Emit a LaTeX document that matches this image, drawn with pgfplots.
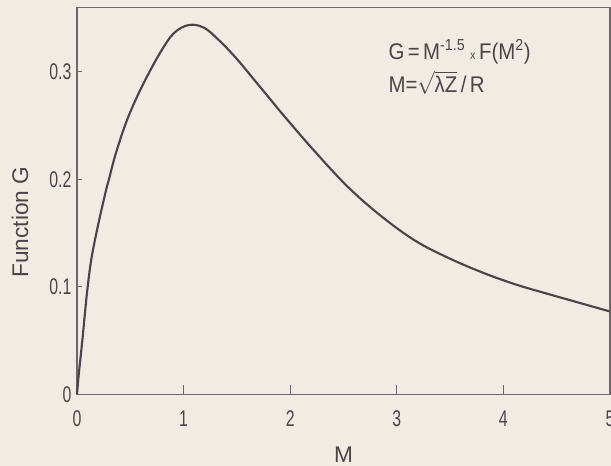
\documentclass[border=0pt]{standalone}
\usepackage{fontspec}
\setmainfont{Liberation Sans}
\usepackage{pgfplots}
\pgfplotsset{compat=1.18}
\definecolor{paper}{HTML}{F1ECE3}
\definecolor{ink}{HTML}{4D4448}
\definecolor{axisink}{HTML}{6E666A}
\newcommand\nar[1]{\scalebox{0.7}[1]{#1}}
\begin{document}
\begin{tikzpicture}
\fill[paper] (-57.75pt,-53.8pt) rectangle (400.5pt,295.7pt);
\begin{axis}[
  scale only axis,
  width=399.75pt, height=290.25pt,
  xmin=0, xmax=5, ymin=0, ymax=0.36,
  axis line style={axisink, line width=1.1pt},
  tick align=inside, tick pos=left,
  xtick={0,1,2,3,4,5},
  xticklabels={\nar{0},\nar{1},\nar{2},\nar{3},\nar{4},\nar{5}},
  ytick={0,0.1,0.2,0.3},
  yticklabels={\nar{0},\nar{0.1},\nar{0.2},\nar{0.3}},
  xtick style={axisink, line width=1pt, /pgfplots/major tick length=7pt},
  ytick style={axisink, line width=1pt, /pgfplots/major tick length=4pt},
  xticklabel style={anchor=center, yshift=-18.5pt, inner sep=0pt},
  yticklabel style={anchor=east, xshift=-4pt, inner sep=0pt},
  ticklabel style={font=\fontsize{17}{19}\selectfont, text=ink},
  label style={font=\fontsize{17}{19}\selectfont, text=ink},
  xlabel={M},
  ylabel={Function G},
  xlabel style={at={(axis description cs:0.5,-0.1568)}, anchor=center},
  ylabel style={at={(axis description cs:-0.107,0.445)}, anchor=center},
  clip=false,
]
\addplot[ink, line width=1.6pt, smooth, tension=0.6] coordinates {
(0,0) (0.016,0.018) (0.05,0.05) (0.077,0.078) (0.098,0.098) (0.135,0.126)
(0.197,0.157) (0.268,0.188) (0.30,0.2) (0.364,0.224) (0.473,0.256) (0.613,0.287)
(0.782,0.318) (0.91,0.336) (1.05,0.3435) (1.19,0.341)
(1.33,0.3295) (1.49,0.313) (1.65,0.294) (1.80,0.276) (1.95,0.258) (2.23,0.226)
(2.54,0.193) (2.85,0.166) (3.17,0.143) (3.48,0.127) (3.81,0.113) (4.12,0.102)
(4.43,0.093) (4.75,0.084) (5.0,0.077)
};
\node[anchor=west, text=ink, inner sep=0pt, font=\fontsize{17}{19}\selectfont] at (axis cs:2.92,0.3186)
  {\scalebox{0.9}[1]{G\,=\,M\textsuperscript{-1.5}\hspace{4pt}{\small x}\hspace{3pt}F(M\textsuperscript{2})}};
\node[anchor=west, text=ink, inner sep=0pt, font=\fontsize{17}{19}\selectfont] at (axis cs:2.92,0.2895)
  {\scalebox{0.9}[1]{M=$\sqrt{\mbox{λZ}}$\,/\,R}};
\end{axis}
\pgfresetboundingbox
\useasboundingbox (-57.75pt,-53.8pt) rectangle (400.5pt,295.7pt);
\end{tikzpicture}
\end{document}
